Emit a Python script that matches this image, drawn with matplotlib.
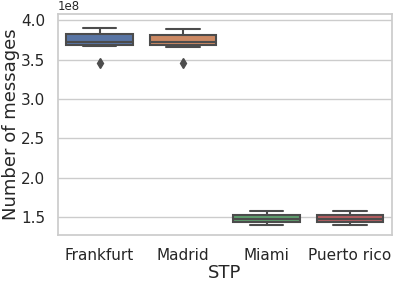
import numpy as np
import pandas as pd
import matplotlib
matplotlib.use("Agg")
import matplotlib.pyplot as plt
import seaborn as sns

# Nombre de messages par STP (en 1e8)
stp = ["Frankfurt", "Madrid", "Miami", "Puerto rico"]
frankfurt = [3.46, 3.67, 3.69, 3.70, 3.72, 3.77, 3.82, 3.86, 3.907]
madrid = [3.46, 3.66, 3.68, 3.70, 3.72, 3.76, 3.81, 3.85, 3.89]
miami = [1.40, 1.43, 1.44, 1.46, 1.48, 1.50, 1.52, 1.55, 1.58]
puerto_rico = [1.40, 1.43, 1.44, 1.46, 1.48, 1.50, 1.52, 1.55, 1.58]

series = [frankfurt, madrid, miami, puerto_rico]
rows = []
for name, vals in zip(stp, series):
    for v in vals:
        rows.append((name, v * 1e8))
df = pd.DataFrame(rows, columns=["STP", "Number of messages"])

sns.set_theme(style="whitegrid")
fig = plt.figure(figsize=(3.99, 2.85), dpi=100)
ax = fig.add_axes([0.145, 0.175, 0.837, 0.776])

sns.boxplot(data=df, x="STP", y="Number of messages", hue="STP",
            palette="deep", saturation=0.75, linewidth=1.5, width=0.8,
            flierprops=dict(marker="d", markersize=5, markerfacecolor="0.3",
                            markeredgecolor="0.3"), ax=ax, legend=False)

ax.set_ylim(1.27e8, 4.08e8)
ax.set_yticks([1.5e8, 2.0e8, 2.5e8, 3.0e8, 3.5e8, 4.0e8])
ax.tick_params(labelsize=11, pad=3, labelcolor="0.15")
ax.set_xlabel("STP", fontsize=13, labelpad=1, color="0.15")
ax.set_ylabel("Number of messages", fontsize=13, labelpad=1, color="0.15")
ax.yaxis.get_offset_text().set_fontsize(8.5)

fig.savefig("out.png", dpi=100)
